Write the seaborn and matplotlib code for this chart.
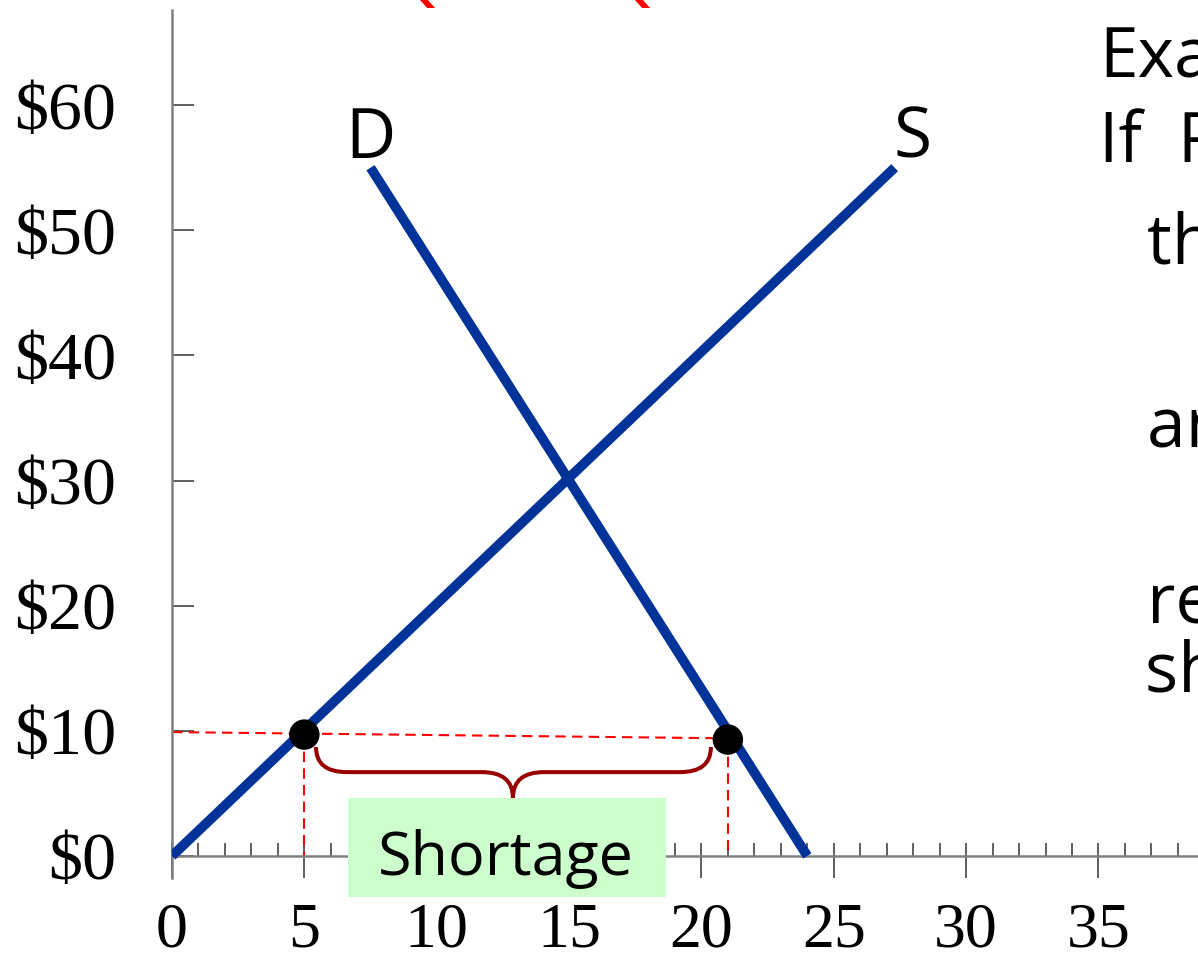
import matplotlib
matplotlib.use("Agg")
import matplotlib.pyplot as plt
import seaborn as sns
from matplotlib.path import Path
from matplotlib.patches import PathPatch, Rectangle
from matplotlib.ticker import MultipleLocator

# supply and demand (quantity, price)
supply_q = [0, 27.3]
supply_p = [0, 55]
demand_q = [7.5, 24]
demand_p = [55, 0]

# price ceiling: quantity supplied / demanded
ceiling_q = [5, 21]
ceiling_p = [9.7, 9.3]
ceiling_line_q = [0, 21]
ceiling_line_p = [9.9, 9.4]

x_ticks = [0, 5, 10, 15, 20, 25, 30, 35]
y_ticks = [0, 10, 20, 30, 40, 50, 60]
y_labels = ["\\$0", "\\$10", "\\$20", "\\$30", "\\$40", "\\$50", "\\$60"]

notes = ["Example:", "If  P = \\$10,", "then Qs = 5", "and Qd = 21,", "resulting in a", "shortage of 16"]

BLUE = "#003399"
SANS = "Open Sans"
SERIF = "Liberation Serif"

sns.set_style("white")
plt.rcParams["font.family"] = [SANS, "DejaVu Sans"]
plt.rcParams["text.color"] = "black"
plt.rcParams["xtick.color"] = "#333333"
plt.rcParams["ytick.color"] = "#333333"
plt.rcParams["xtick.labelcolor"] = "black"
plt.rcParams["ytick.labelcolor"] = "black"

fig = plt.figure(figsize=(11.98, 9.63), dpi=100)
ax = fig.add_axes([172 / 1198, 85 / 963, 1 - 172 / 1198, 868 / 963])
ax.set_xlim(0, 38.76)
ax.set_ylim(-1.76, 67.6)

# curves
sns.lineplot(x=supply_q, y=supply_p, ax=ax, color=BLUE, linewidth=7,
             solid_capstyle="butt", zorder=3)
sns.lineplot(x=demand_q, y=demand_p, ax=ax, color=BLUE, linewidth=7,
             solid_capstyle="butt", zorder=3)
ax.text(7.48, 55.8, "D", fontsize=50, ha="center", va="baseline")
ax.text(27.99, 55.8, "S", fontsize=50, ha="center", va="baseline")

# ceiling price guides
ax.plot(ceiling_line_q, ceiling_line_p, color="red", lw=1.5, ls=(0, (5, 3)), zorder=2)
for q, p in zip(ceiling_q, ceiling_p):
    ax.plot([q, q], [p, 0], color="red", lw=1.5, ls=(0, (5, 3)), zorder=2)
sns.scatterplot(x=ceiling_q, y=ceiling_p, ax=ax, color="black", s=480,
                edgecolor="none", zorder=4)

# brace under the gap
bx0, bx1, bxm = 5.44, 20.36, 12.88
by_top, by_mid, by_tip = 8.7, 6.7, 4.63
brx = 1.17
verts = [(bx0, by_top), (bx0, by_mid), (bx0 + brx, by_mid),
         (bxm - brx, by_mid), (bxm, by_mid), (bxm, by_tip),
         (bxm, by_mid), (bxm + brx, by_mid),
         (bx1 - brx, by_mid), (bx1, by_mid), (bx1, by_top)]
codes = [Path.MOVETO, Path.CURVE3, Path.CURVE3, Path.LINETO, Path.CURVE3, Path.CURVE3,
         Path.CURVE3, Path.CURVE3, Path.LINETO, Path.CURVE3, Path.CURVE3]
ax.add_patch(PathPatch(Path(verts, codes), fc="none", ec="#990000", lw=2.9,
                       capstyle="butt", zorder=3))

ax.add_patch(Rectangle((6.65, -3.27), 12.01, 7.9, fc="#CCFFCC", ec="none",
                       zorder=5, clip_on=False))
ax.text(12.6, -1.52, "Shortage", fontsize=44, ha="center", va="baseline", zorder=6)

# axes styling
for side in ["top", "right"]:
    ax.spines[side].set_visible(False)
ax.spines["bottom"].set_position(("data", 0))
for side in ["left", "bottom"]:
    ax.spines[side].set_color("#808080")
    ax.spines[side].set_linewidth(1.8)

ax.set_xticks(x_ticks)
ax.set_xticklabels([str(v) for v in x_ticks], fontfamily=SERIF)
ax.xaxis.set_minor_locator(MultipleLocator(1))
ax.xaxis.remove_overlapping_locs = False
ax.set_yticks(y_ticks)
ax.set_yticklabels(y_labels, fontfamily=SERIF)
ax.tick_params(axis="x", which="major", bottom=True, direction="out", length=15.8,
               width=1.1, pad=18, labelsize=46)
ax.tick_params(axis="x", which="minor", bottom=True, direction="in", length=9.4,
               width=1.1)
ax.tick_params(axis="y", which="major", left=True, direction="in", length=15.8,
               width=1.1, pad=40, labelsize=49)
ax.set_xlabel("")
ax.set_ylabel("")

# side notes (run off the slide edge)
note_x = [1099, 1099, 1147, 1147, 1147, 1145]
note_y = [77, 162, 263, 447, 623, 692]
for t, px, py in zip(notes, note_x, note_y):
    fig.text(px / 1198, 1 - py / 963, t, fontsize=50, ha="left", va="baseline")

# red heading cut by the top edge
for px in [390, 605]:
    fig.text(px / 1198, 1 + 1 / 963, "Q", fontsize=48, color="red",
             ha="left", va="baseline", family="DejaVu Sans")

fig.savefig("out.png", dpi=100)
